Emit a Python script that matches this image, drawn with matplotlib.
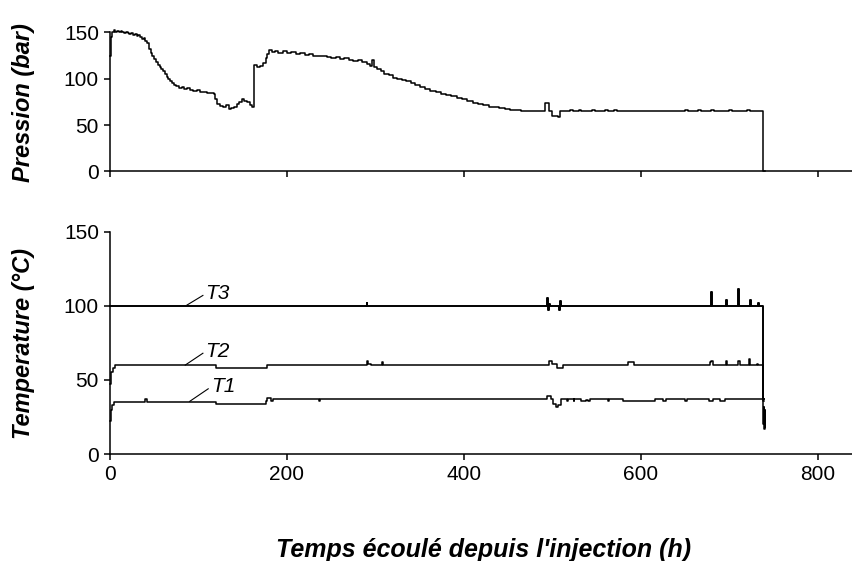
"""Pression et temperatures apres injection."""
import matplotlib
matplotlib.use('Agg')
import matplotlib.pyplot as plt

plt.rcParams['font.family'] = ['Liberation Sans', 'DejaVu Sans']

# pression (bar) : (temps h, valeur)
pression = [
    (0, 124), (1, 145), (2, 150), (4, 152), (6, 150), (8, 151), (10, 150), (12, 151),
    (14, 150), (16, 149), (18, 150), (20, 149), (22, 148), (24, 149), (26, 147), (28, 148),
    (30, 146), (32, 147), (34, 145), (36, 143), (38, 144), (40, 141), (42, 138), (44, 132),
    (46, 128), (48, 124), (50, 121), (52, 118), (54, 115), (56, 113), (58, 110), (60, 108),
    (62, 105), (64, 102), (66, 100), (68, 97), (70, 95), (72, 93), (75, 92), (78, 90),
    (81, 91), (84, 89), (87, 90), (90, 88), (94, 87), (98, 88), (102, 86), (106, 86),
    (110, 85), (114, 85), (117, 83), (119, 78), (121, 73), (124, 71), (128, 70), (131, 72),
    (134, 67), (137, 68), (140, 70), (143, 73), (146, 75), (149, 78), (152, 76), (155, 75),
    (158, 72), (161, 70), (163, 115), (166, 113), (170, 114), (173, 117), (176, 122),
    (178, 127), (180, 131), (183, 129), (186, 130), (190, 128), (195, 130), (200, 128),
    (205, 129), (210, 127), (215, 128), (220, 126), (225, 127), (230, 125), (235, 124),
    (240, 125), (245, 123), (250, 122), (255, 123), (260, 121), (265, 122), (270, 120),
    (275, 119), (280, 120), (285, 118), (290, 116), (294, 114), (296, 120), (298, 113),
    (302, 111), (306, 108), (310, 105), (315, 104), (320, 101), (325, 100), (330, 99),
    (335, 97), (340, 95), (345, 93), (350, 91), (356, 89), (362, 87), (368, 86), (374, 84),
    (380, 82), (386, 81), (392, 79), (398, 78), (404, 76), (410, 74), (416, 73), (422, 72),
    (428, 70), (434, 69), (440, 68), (446, 67), (452, 66), (458, 66), (465, 65), (475, 65),
    (485, 65), (492, 74), (496, 65), (500, 60), (506, 59), (509, 65), (520, 66), (523, 65),
    (530, 66), (533, 65), (545, 66), (548, 65), (560, 66), (563, 65), (570, 66), (573, 65),
    (650, 66), (653, 65), (665, 66), (668, 65), (680, 66), (683, 65), (700, 66), (703, 65),
    (720, 66), (723, 65), (738, 0), (740, 0),
]
p_time = [t for t, v in pression]
p_val = [v for t, v in pression]

# temperatures (degC)
t3_time = [0, 290, 291, 494, 495, 496, 497, 508, 509, 510, 680, 681, 696, 697, 710, 711, 724,
           725, 733, 734, 738.5, 739.5]
t3_val = [100, 102, 100, 105, 97, 101, 100, 97, 103, 100, 109, 100, 104, 100, 111, 100, 104, 100,
          102, 100, 37, 37]

t2_time = [0, 1, 3, 6, 120, 177, 290, 292, 295, 305, 307, 309, 493, 496, 500, 505, 512, 586,
           592, 678, 680, 682, 694, 696, 698, 708, 710, 712, 722, 723, 732, 733, 738.5, 739.5]
t2_val = [47, 55, 58, 60, 58, 60, 63, 61, 60, 60, 62, 60, 60, 63, 61, 58, 60, 62, 60, 62, 63, 60,
          60, 63, 60, 60, 63, 60, 64, 60, 61, 60, 36, 36]

t1_time = [0, 1, 2, 4, 40, 42, 120, 176, 178, 182, 184, 236, 237, 494, 498, 501, 504, 507, 510,
           517, 518, 524, 525, 533, 538, 540, 543, 563, 564, 580, 590, 616, 625, 629, 650, 652,
           677, 682, 690, 695, 738.5, 739, 739.5, 740, 740.5]
t1_val = [22, 30, 33, 35, 37, 35, 33.5, 36, 38, 36, 37, 36, 37, 39, 37, 34, 32, 33, 37, 36, 37, 36,
          37, 35.5, 36.5, 35.5, 37, 36, 37, 36, 35.5, 37, 35.5, 37, 35.5, 37, 35.5, 37, 35.5, 37,
          20, 32, 17, 30, 18]

x_ticks = [0, 200, 400, 600, 800]
y_ticks = [0, 50, 100, 150]

fig = plt.figure(figsize=(8.53, 5.61), dpi=100)
ax1 = fig.add_axes([0.129, 0.6943, 0.871, 0.2481])
ax2 = fig.add_axes([0.129, 0.1907, 0.871, 0.3963])

ax1.plot(p_time, p_val, drawstyle='steps-post', color='black', lw=1.1, clip_on=False)
ax2.plot(t3_time, t3_val, drawstyle='steps-post', color='black', lw=1.4, clip_on=False)
ax2.plot(t2_time, t2_val, drawstyle='steps-post', color='black', lw=1.1, clip_on=False)
ax2.plot(t1_time, t1_val, drawstyle='steps-post', color='black', lw=1.1, clip_on=False)

# etiquettes des courbes
for lbl, x0, y0, x1, y1 in [('T3', 87, 100.5, 105, 107), ('T2', 85, 60, 105, 68),
                            ('T1', 90, 35.5, 111, 44)]:
    ax2.plot([x0, x1], [y0, y1], color='black', lw=0.8)
    ax2.text(x1 + 3, y1 + 1.5, lbl, style='italic', fontsize=15, ha='left', va='center')

for ax in (ax1, ax2):
    ax.set_xlim(0, 840)
    ax.set_ylim(0, 150)
    ax.set_xticks(x_ticks)
    ax.set_yticks(y_ticks)
    for s in ('top', 'right'):
        ax.spines[s].set_visible(False)
    for s in ('left', 'bottom'):
        ax.spines[s].set_linewidth(1.1)
    ax.tick_params(direction='out', length=4, width=1.1, labelsize=15, pad=4)

ax1.set_xticklabels([])

fig.text(0.027, 0.818, 'Pression (bar)', rotation=90, ha='center', va='center',
         fontsize=17, fontweight='bold', style='italic')
fig.text(0.027, 0.387, 'Temperature (°C)', rotation=90, ha='center', va='center',
         fontsize=17, fontweight='bold', style='italic')
fig.text(0.567, 0.008, "Temps écoulé depuis l'injection (h)", ha='center', va='baseline',
         fontsize=18, fontweight='bold', style='italic')

fig.savefig('out.png', dpi=100)
